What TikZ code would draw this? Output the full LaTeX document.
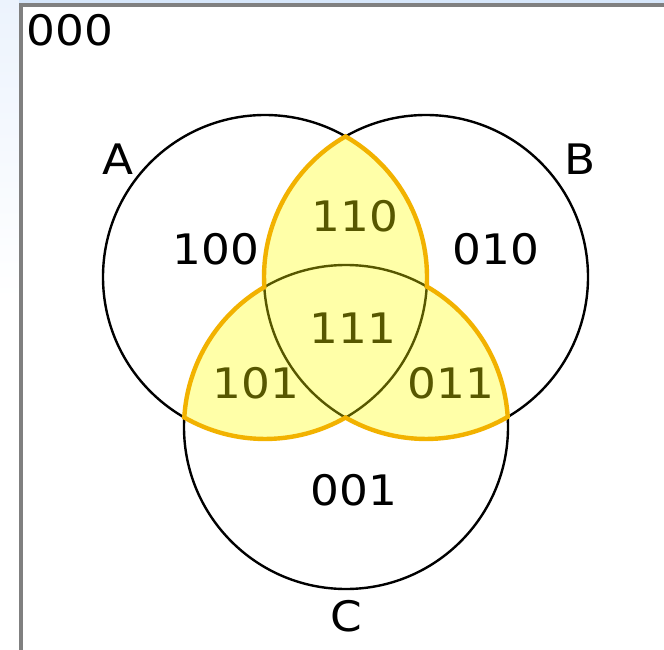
\documentclass[tikz,border=0pt]{standalone}
\usepackage{fontspec}
\setmainfont{DejaVu Sans}
\definecolor{frame}{RGB}{128,128,128}
\definecolor{skyA}{RGB}{214,230,250}
\definecolor{skyB}{RGB}{236,243,253}
\definecolor{gold}{RGB}{242,178,0}
\definecolor{hilite}{RGB}{255,255,0}
\tikzset{
  circ/.style={draw=black, line width=2.4pt},
  lbl/.style={inner sep=0pt, anchor=center, xscale=1.08, font=\fontsize{42}{42}\selectfont},
  overlap/.style={fill=hilite, fill opacity=0.34},
  rim/.style={draw=gold, line width=4.4pt, line join=miter}
}
\begin{document}
\begin{tikzpicture}[x=1pt,y=1pt]
\useasboundingbox (0,0) rectangle (664,-650);
\fill[white] (0,0) rectangle (664,-650);
% screenshot surroundings
\shade[top color=skyB, bottom color=white] (0,0) rectangle (19.5,-300);
\fill[skyA] (19,0) rectangle (664,-3.3);
\draw[frame, line width=3.4pt] (664,-5) -- (21,-5) -- (21,-650);
% circles
\coordinate (A) at (265,-277);
\coordinate (B) at (426,-277);
\coordinate (C) at (346,-427);
\draw[circ] (A) circle[radius=162];
\draw[circ] (B) circle[radius=162];
\draw[circ] (C) circle[radius=162];
% labels
\node[lbl] (t000) at (70,-30) {000};
\node[lbl] (tA) at (118,-159) {A};
\node[lbl] (tB) at (580,-159) {B};
\node[lbl] (tC) at (346,-616) {C};
\node[lbl] (t100) at (216,-249) {100};
\node[lbl] (t010) at (496,-249) {010};
\node[lbl] (t110) at (355,-216) {110};
\node[lbl] (t111) at (353,-328) {111};
\node[lbl] (t101) at (256,-383) {101};
\node[lbl] (t011) at (451,-383) {011};
\node[lbl] (t001) at (354,-490) {001};
% highlighted region: points in at least two sets
\coordinate (T) at (345.5,-136.42);
\path[overlap] (T)
  arc[start angle=119.8, end angle=183.57, radius=162]
  arc[start angle=120.28, end angle=176.63, radius=162]
  arc[start angle=240.12, end angle=299.8, radius=162]
  arc[start angle=240.2, end angle=300.28, radius=162]
  arc[start angle=3.57, end angle=60.12, radius=162]
  arc[start angle=-3.37, end angle=60.2, radius=162] -- cycle;
\path[rim] (T)
  arc[start angle=119.8, end angle=183.57, radius=162]
  arc[start angle=120.28, end angle=176.63, radius=162]
  arc[start angle=240.12, end angle=299.8, radius=162]
  arc[start angle=240.2, end angle=300.28, radius=162]
  arc[start angle=3.57, end angle=60.12, radius=162]
  arc[start angle=-3.37, end angle=60.2, radius=162] -- cycle;
\end{tikzpicture}
\end{document}
